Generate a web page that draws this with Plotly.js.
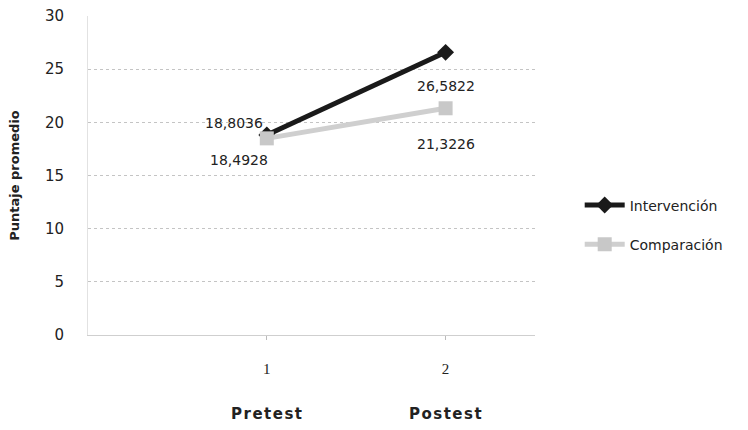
<!DOCTYPE html>
<html><head><meta charset="utf-8">
<script src="https://cdn.plot.ly/plotly-3.0.1.min.js"></script>
<style>body{margin:0;background:#fff}#c{width:748px;height:430px}</style>
</head><body><div id="c"></div>
<script>
const xVals = [1, 2];
const phaseLabels = ["Pretest", "Postest"];
const intervencion = [18.8036, 26.5822];
const comparacion = [18.4928, 21.3226];
const intervLabels = ["18,8036", "26,5822"];
const compLabels = ["18,4928", "21,3226"];
const yTicks = [0, 5, 10, 15, 20, 25, 30];

const traces = [
  {x: xVals, y: intervencion, name: "Intervención", mode: "lines+markers", legendgroup: "a",
   line: {color: "#1a1a1a", width: 5}, marker: {symbol: "diamond", size: 13, color: "#1a1a1a"}},
  {x: xVals, y: comparacion, name: "Comparación", mode: "lines+markers", legendgroup: "b",
   line: {color: "#cfcfcf", width: 5}, marker: {symbol: "square", size: 14, color: "#c8c8c8"}}
];

const ann = [];
ann.push({x: xVals[0], y: intervencion[0], text: intervLabels[0], xanchor: "right", yanchor: "bottom", xshift: -2, yshift: 2});
ann.push({x: xVals[0], y: comparacion[0], text: compLabels[0], xanchor: "center", yanchor: "top", xshift: -28, yshift: -12});
ann.push({x: xVals[1], y: intervencion[1], text: intervLabels[1], xanchor: "center", yanchor: "top", yshift: -24});
ann.push({x: xVals[1], y: comparacion[1], text: compLabels[1], xanchor: "center", yanchor: "top", yshift: -26});
ann.forEach(a => { a.showarrow = false; a.font = {family: "DejaVu Sans", size: 14, color: "#222"}; });
phaseLabels.forEach((t, i) => ann.push({x: xVals[i], y: 0, xref: "x", yref: "paper", yanchor: "top",
  yshift: -68, text: t.split("").join("\u200A"), showarrow: false,
  font: {family: "DejaVu Sans", size: 15, color: "#222", weight: 600}}));

Plotly.newPlot("c", traces, {
  width: 748, height: 430,
  margin: {l: 88, r: 213, t: 16, b: 95},
  paper_bgcolor: "#fff", plot_bgcolor: "#fff",
  showlegend: true,
  legend: {x: 1.1, y: 0.345, xanchor: "left", yanchor: "middle", traceorder: "grouped", tracegroupgap: 18,
    font: {family: "DejaVu Sans", size: 14, color: "#222"}, itemwidth: 40},
  xaxis: {range: [0, 2.5], tickvals: xVals, ticktext: xVals.map(String), showgrid: false, zeroline: false,
    showline: true, linecolor: "#cfcfcf", ticks: "outside", ticklen: 4, tickcolor: "#bbb", ticklabelstandoff: 16,
    tickfont: {family: "Liberation Serif", size: 15, color: "#222"}},
  yaxis: {range: [0, 30], tickvals: yTicks, showgrid: true, gridcolor: "#c4c4c4", griddash: "dot", gridwidth: 1,
    zeroline: false, showline: true, linecolor: "#e2e2e2", ticks: "", ticklabelstandoff: 20,
    tickfont: {family: "DejaVu Sans", size: 15, color: "#222"},
    title: {text: "Puntaje promedio", standoff: 22, font: {family: "DejaVu Sans", size: 13, color: "#222", weight: "bold"}}},
  annotations: ann
}, {staticPlot: true});
</script></body></html>
